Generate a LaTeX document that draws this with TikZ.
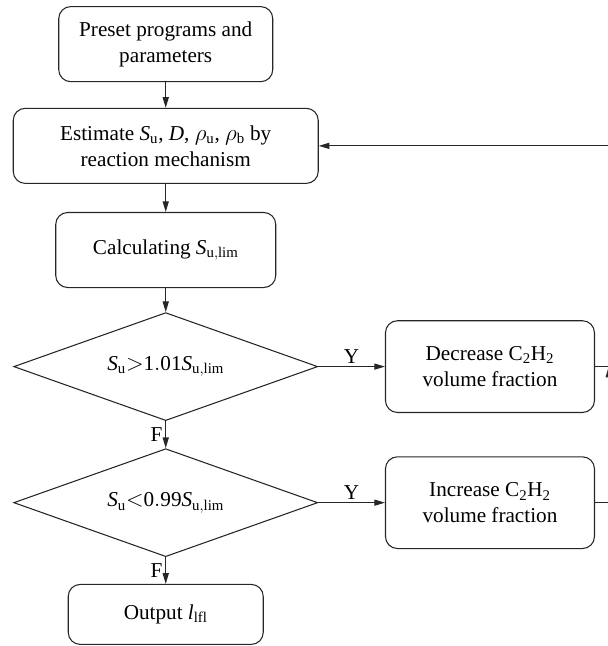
\documentclass[tikz,border=0pt]{standalone}
\usepackage{fontspec}
\setmainfont{Liberation Serif}
\usepackage{tikz}
\usetikzlibrary{arrows.meta, positioning, shapes.geometric}

\begin{document}
\begin{tikzpicture}[
      >={Triangle[length=8pt, width=4.6pt]},
      font=\fontsize{15.9pt}{19.5pt}\selectfont,
      box/.style={rectangle, rounded corners=9pt, draw=black!85, line width=0.8pt,
        minimum height=56.3pt, align=center, inner sep=3pt},
      decision/.style={diamond, aspect=2.8, draw=black!85, line width=0.8pt, inner sep=0pt,
        minimum width=228pt, minimum height=81pt, align=center},
      arrow/.style={->, line width=0.8pt, draw=black!85},
      lbl/.style={inner sep=2pt}]
    \useasboundingbox (0,0) rectangle (455.25pt,-484.5pt);
    \node[box, minimum width=160.5pt] (pre) at (124.3pt,-33.1pt) {Preset programs and\\parameters};
    \node[box, minimum width=228.75pt, below=19.2pt of pre] (est) {Estimate $\mathit{S}_\mathrm{u}$, $\mathit{D}$, $\rho_\mathrm{u}$, $\rho_\mathrm{b}$ by\\reaction mechanism};
    \node[box, minimum width=165pt, below=21pt of est] (calc) {Calculating $\mathit{S}_\mathrm{u,lim}$};
    \node[decision, below=18pt of calc] (dup) {$\mathit{S}_\mathrm{u}{>}\mathrm{1.01}\mathit{S}_\mathrm{u,lim}$};
    \node[decision, below=20.25pt of dup] (dlo) {$\mathit{S}_\mathrm{u}{<}\mathrm{0.99}\mathit{S}_\mathrm{u,lim}$};
    \node[box, minimum width=146.25pt, minimum height=45pt, below=20pt of dlo] (out) {Output $\mathit{l}_\mathrm{lfl}$};
    \node[box, minimum width=156.75pt, minimum height=68.8pt, right=50pt of dup] (dec) {Decrease C\textsubscript{2}H\textsubscript{2}\\volume fraction};
    \node[box, minimum width=156.75pt, minimum height=68.8pt, right=50pt of dlo] (inc) {Increase C\textsubscript{2}H\textsubscript{2}\\volume fraction};
    \coordinate[right=10.3pt of dec.east] (jn);
    \draw[arrow] (pre)--(est); \draw[arrow] (est)--(calc); \draw[arrow] (calc)--(dup);
    \draw[arrow] (dup)--node[lbl, left] {F} (dlo); \draw[arrow] (dlo)--node[lbl, left] {F} (out);
    \draw[arrow] (dup)--node[lbl, above] {Y} (dec); \draw[arrow] (dlo)--node[lbl, above] {Y} (inc);
    \draw[arrow] (inc.east) -| (jn); \draw[line width=0.8pt, black!85] (dec.east)--(jn);
    \draw[arrow] (jn) |- (est.east);
  \end{tikzpicture}
\end{document}
